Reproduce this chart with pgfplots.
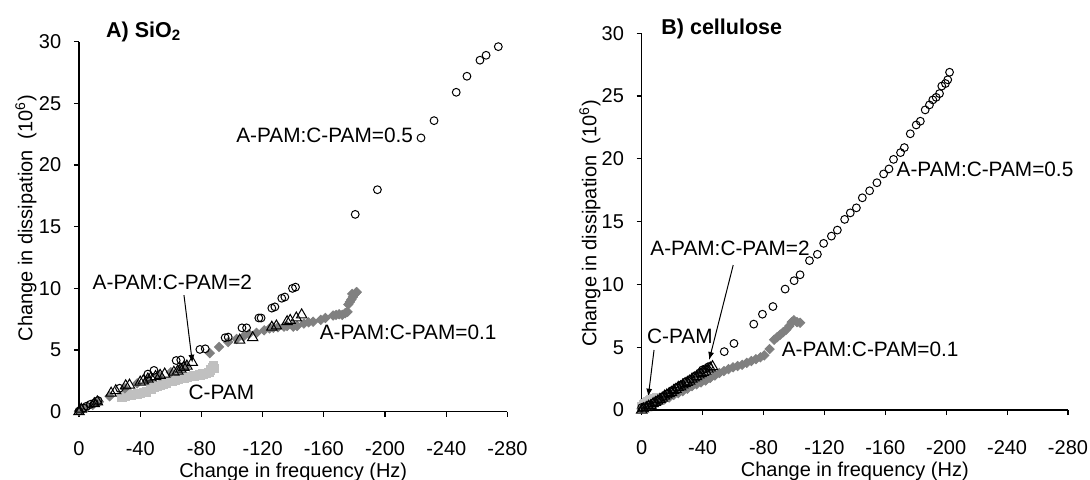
\documentclass[border=0pt]{standalone}
\usepackage{fontspec}
\setmainfont{Liberation Sans}
\usepackage{pgfplots}
\pgfplotsset{compat=1.18}
\usetikzlibrary{arrows.meta}

\definecolor{markdark}{RGB}{128,128,128}
\definecolor{marklight}{RGB}{192,192,192}

\pgfplotsset{
  qcm/.style={
    scale only axis,
    xmin=-280, xmax=0, ymin=0, ymax=30, x dir=reverse,
    axis x line*=bottom, axis y line*=left,
    axis line style={black, line width=0.6pt},
    tick align=outside, major tick length=2.5pt,
    tick style={black, line width=0.6pt},
    xtick={0,-40,-80,-120,-160,-200,-240,-280},
    xticklabels={0,-40,-80,-120,-160,-200,-240,-280},
    ytick={0,5,10,15,20,25,30},
    /pgf/number format/assume math mode=true,
    tick label style={font=\fontsize{10}{12}\selectfont},
    xticklabel style={anchor=base, inner sep=0pt, yshift=-19.6pt},
    yticklabel style={anchor=east, inner sep=0pt, xshift=-6.2pt},
    label style={font=\fontsize{10}{12}\selectfont},
    xlabel={Change in frequency (Hz)},
    ylabel={Change in dissipation\ \ (10\textsuperscript{6})},
    clip=false,
  },
  circ/.style={only marks, mark=o, mark size=1.95pt, mark options={draw=black, line width=0.5pt}},
  tri/.style={only marks, mark=triangle, mark size=3.0pt, mark options={draw=black, line width=0.5pt}},
  dia/.style={only marks, mark=square*, mark size=1.65pt, mark options={rotate=45, draw=markdark, fill=markdark}},
  sq/.style={only marks, mark=square*, mark size=2.1pt, mark options={draw=marklight, fill=marklight}},
}
\tikzset{
  ann/.style={font=\fontsize{10.4}{12.5}\selectfont, inner sep=0pt},
  ttl/.style={font=\fontsize{10.75}{13}\selectfont\bfseries, inner sep=0pt, anchor=base west},
}

\begin{document}
\begin{tikzpicture}
\useasboundingbox (0,0) rectangle (545pt,239.5pt);

% ---------------- A) SiO2 ----------------
\begin{axis}[qcm,
  at={(39.5pt,33.65pt)}, anchor=south west,
  width=214.25pt, height=185pt,
  xlabel style={at={(axis description cs:0.5,-0.1765)}, anchor=base},
  ylabel style={at={(axis description cs:-0.1237,0.5235)}, anchor=center},
]
% C-PAM
\addplot[sq] coordinates {
(-28,1.2) (-30,1.25) (-32,1.3) (-34,1.35) (-38,1.45) (-40,1.5) (-42,1.55) (-44,1.6)
(-47,1.85) (-49,1.95) (-51,2.05) (-53,2.15) (-55,2.25) (-57,2.35) (-59,2.45) (-61,2.5)
(-63,2.55) (-65,2.65) (-67,2.7) (-69,2.75) (-71,2.8) (-73,2.85) (-75,2.9) (-77,2.95)
(-79,3.0) (-81,3.05) (-83,3.1) (-85,3.2) (-86,3.4) (-87,3.6) (-88,3.75) (-88.5,3.5)
};
% A-PAM:C-PAM = 0.1
\addplot[dia] coordinates {
(0,0.05) (-2,0.15) (-5,0.35) (-9,0.55) (-13,0.8) (-20,1.25) (-30,1.9) (-38,2.3)
(-45,2.6) (-52,2.95) (-60,3.2) (-66,3.5) (-70,3.7) (-85.5,4.75) (-91.5,5.25) (-97.5,5.65)
(-103,5.9) (-107.5,6.1) (-111,6.3) (-116,6.4) (-121,6.6) (-124.5,6.75) (-127,6.8) (-130,6.85)
(-134,6.9) (-136,6.95) (-140,6.9) (-142.5,6.95) (-147,7.15) (-150,7.25) (-153,7.3) (-158,7.45)
(-161,7.6) (-166,7.8) (-168,7.85) (-170,7.9) (-172,7.85) (-174,8.0) (-175.5,8.1) (-176,8.7)
(-177,8.9) (-178,9.1) (-179,9.3) (-180,9.5) (-181,9.65) (-181.5,9.7) (-178.5,9.55)
};
% A-PAM:C-PAM = 0.5
\addplot[circ] coordinates {
(0,0.05) (-3,0.3) (-5,0.45) (-7.5,0.6) (-10,0.7) (-12.5,0.9) (-26.5,1.9) (-45,3.05)
(-49,3.35) (-63.5,4.15) (-66.5,4.2) (-79,5.05) (-82.5,5.1) (-95.5,6.0) (-97.5,6.05)
(-106.5,6.8) (-109.5,6.8) (-117.5,7.6) (-119,7.6) (-126,8.4) (-128,8.5) (-132.5,9.2)
(-134.5,9.3) (-139.5,10.0) (-141.5,10.1) (-180.5,16.0) (-195,18.0) (-223.5,22.2)
(-232,23.6) (-246.5,25.9) (-253.5,27.2) (-262,28.5) (-266,28.9) (-274,29.6)
};
% A-PAM:C-PAM = 2
\addplot[tri] coordinates {
(0,0) (-1.5,0.2) (-10,0.65) (-12,0.8) (-21,1.5) (-24,1.7) (-30.5,2.1) (-33,2.15)
(-40,2.4) (-42,2.5) (-45,2.65) (-47,2.75) (-50,2.85) (-53,2.95) (-56,3.05) (-62,3.2)
(-64.5,3.3) (-66.5,3.45) (-68.5,3.6) (-70.5,3.7) (-74,4.0) (-105,5.8) (-113.5,6.0)
(-126,6.85) (-129,6.95) (-136,7.3) (-138,7.4) (-142,7.6) (-145.5,7.85)
};
\node[ttl] at (axis cs:-17.5,30.36) {A) SiO\textsubscript{2}};
\node[ann, anchor=east] at (axis cs:-218.5,22.38) {A-PAM:C-PAM=0.5};
\node[ann, anchor=west] at (axis cs:-8.7,10.48) {A-PAM:C-PAM=2};
\node[ann, anchor=west] at (axis cs:-157.1,6.42) {A-PAM:C-PAM=0.1};
\node[ann, anchor=west] at (axis cs:-71.4,1.56) {C-PAM};
\draw[black, line width=0.5pt, -{Latex[length=4pt,width=3pt]}]
  (axis cs:-68.6,9.45) -- (axis cs:-74.1,3.97);
\end{axis}

% ---------------- B) cellulose ----------------
\begin{axis}[qcm,
  at={(320.85pt,34.5pt)}, anchor=south west,
  width=213.15pt, height=188.35pt,
  xlabel style={at={(axis description cs:0.5,-0.1752)}, anchor=base},
  ylabel style={at={(axis description cs:-0.1213,0.495)}, anchor=center},
]
% C-PAM
\addplot[sq] coordinates {
(0,0.25) (-1,0.4) (-2,0.5) (-3,0.6) (-4,0.7) (-5,0.75) (-6,0.85) (-8,0.9) (-10,0.95)
};
% A-PAM:C-PAM = 0.1
\addplot[dia] coordinates {
(0,0.1) (-3,0.2) (-6,0.35) (-9,0.5) (-12,0.7) (-15,0.85) (-18,1.0) (-21,1.2) (-24,1.35)
(-27,1.5) (-30,1.7) (-33,1.9) (-36,2.05) (-39,2.2) (-42,2.35) (-45,2.55) (-48,2.75)
(-51,2.95) (-54,3.1) (-57,3.25) (-60,3.4) (-63,3.5) (-66,3.6) (-69,3.75) (-72,3.9)
(-75,4.05) (-78,4.2) (-80.5,4.35) (-84,4.85) (-87,5.6) (-89,5.8) (-91,6.0) (-93,6.2)
(-95,6.4) (-97,6.7) (-98.5,7.0) (-100,7.15) (-102,7.0) (-104,6.95)
};
% A-PAM:C-PAM = 0.5
\addplot[circ] coordinates {
(0,0.2) (-2,0.25) (-5,0.4) (-8,0.6) (-11,0.8) (-14,1.05) (-17,1.3) (-20,1.55) (-23,1.8)
(-26,2.0) (-29,2.25) (-32,2.45) (-35,2.7) (-38,2.95) (-40,3.2) (-42,3.3) (-44,3.45)
(-54.2,4.65) (-60.6,5.3) (-73.6,6.84) (-79.3,7.63) (-86.2,8.24) (-94.2,9.63) (-100.1,10.3)
(-104,10.77) (-110.2,11.9) (-115.4,12.4) (-119.5,13.27) (-124.6,13.85) (-128.5,14.33)
(-133.3,15.18) (-137,15.7) (-141,16.1) (-144.9,16.9) (-149.7,17.46) (-154.5,18.1)
(-158.9,18.8) (-162.4,19.2) (-165.4,19.96) (-170,20.5) (-172.5,20.9) (-176.4,22.0)
(-180.3,22.7) (-183,23.0) (-186.2,23.9) (-189,24.3) (-191.2,24.7) (-193.4,24.9)
(-195.6,25.2) (-197.1,25.8) (-199.5,26.0) (-201,26.3) (-202.2,26.9)
};
% A-PAM:C-PAM = 2
\addplot[tri] coordinates {
(0,0.0) (-1,0.1) (-3,0.2) (-4.5,0.3) (-6,0.35) (-7.5,0.5) (-9,0.6) (-10.5,0.7) (-12,0.85)
(-13.5,0.95) (-15,1.1) (-16.5,1.2) (-18,1.3) (-19.5,1.4) (-21,1.55) (-22.5,1.65) (-24,1.8)
(-25.5,1.85) (-27,2.0) (-28.5,2.1) (-30,2.2) (-31.5,2.3) (-33,2.45) (-34.5,2.55) (-36,2.65)
(-37.5,2.8) (-39,2.9) (-40.5,3.0) (-42,3.1) (-43.5,3.25) (-45,3.35) (-46.5,3.45)
};
\node[ttl] at (axis cs:-12.7,29.94) {B) cellulose};
\node[ann, anchor=west] at (axis cs:-167.2,19.13) {A-PAM:C-PAM=0.5};
\node[ann, anchor=west] at (axis cs:-5.44,12.87) {A-PAM:C-PAM=2};
\node[ann, anchor=west] at (axis cs:-91.8,4.86) {A-PAM:C-PAM=0.1};
\node[ann, anchor=west] at (axis cs:-3.3,5.84) {C-PAM};
\draw[black, line width=0.5pt, -{Latex[length=4pt,width=3pt]}]
  (axis cs:-60.1,11.54) -- (axis cs:-44.3,3.98);
\draw[black, line width=0.5pt, -{Latex[length=4pt,width=3pt]}]
  (axis cs:-8.1,4.78) -- (axis cs:-4.3,1.06);
\end{axis}
\end{tikzpicture}
\end{document}
